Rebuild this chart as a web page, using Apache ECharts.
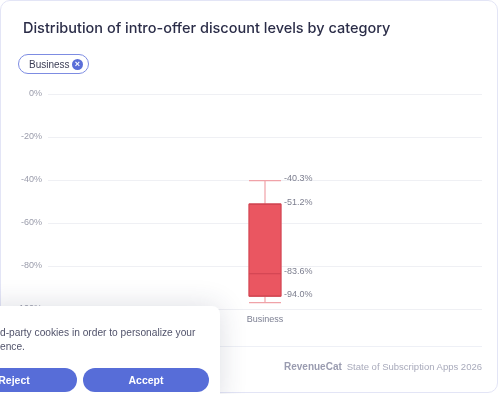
<!DOCTYPE html>
<html>
<head>
<meta charset="utf-8">
<script src="https://cdn.jsdelivr.net/npm/echarts@6/dist/echarts.min.js"></script>
<style>
  html, body { margin: 0; padding: 0; background: #ffffff; }
  .page { position: relative; width: 500px; height: 394px; overflow: hidden; font-family: 'Liberation Sans', sans-serif; }
  .card { position: absolute; left: 0; top: 0; width: 496px; height: 391px; border: 1px solid #e3e5f6; border-radius: 10px; box-sizing: content-box; }
  #chart { position: absolute; left: 0; top: 0; width: 500px; height: 394px; }
  .chip { position: absolute; left: 18px; top: 54px; height: 20px; width: 71px; box-sizing: border-box; padding-left: 10px; border: 1px solid #7d8ce2; border-radius: 11px; font-size: 10px; line-height: 19px; color: #3b3d55; }
  .chip .x { position: absolute; left: 53px; top: 3.5px; width: 11px; height: 11px; border-radius: 6px; background: #5a6ed8; color: #fff; font-size: 9px; line-height: 11px; text-align: center; font-weight: 700; }
  .divider { position: absolute; left: 18px; top: 346px; width: 464px; height: 1px; background: #eef0f6; }
  .footer { position: absolute; right: 18px; top: 361px; font-size: 9.5px; color: #a8aabb; white-space: nowrap; }
  .footer b { color: #9a9cb0; font-weight: 700; font-size: 10px; margin-right: 5px; }
  .cookie { position: absolute; left: -20px; top: 306px; width: 240px; height: 100px; background: #fff; border-radius: 8px; box-shadow: 0 0 28px rgba(40, 45, 80, 0.16); }
  .cookie p { position: absolute; left: 20px; top: 20px; margin: 0; font-size: 10.2px; line-height: 14px; color: #51536b; white-space: nowrap; }
  .btn { position: absolute; top: 62px; height: 24px; width: 126px; border-radius: 12px; background: #576dd8; color: #fff; font-size: 10.5px; font-weight: 700; line-height: 24px; text-align: center; }
</style>
</head>
<body>
<div class="page">
  <div class="card"></div>
  <div id="chart"></div>
  <div class="chip">Business<span class="x">×</span></div>
  <div class="divider"></div>
  <div class="footer"><b>RevenueCat</b>State of Subscription Apps 2026</div>
  <div class="cookie">
    <p>d-party cookies in order to personalize your<br>ence.</p>
    <div class="btn" style="left: -29px;">Reject</div>
    <div class="btn" style="left: 103px;">Accept</div>
  </div>
</div>
<script>
// 数据
const categories = ['Business']
// min, q1, median, q3, max
const boxStats = [[-97.0, -94.0, -83.6, -51.2, -40.3]]
const labelValues = [-40.3, -51.2, -83.6, -94.0]
const yTicks = [0, -20, -40, -60, -80, -100]

const chart = echarts.init(document.getElementById('chart'))

// 只画箱体和中位线（须线收缩到箱体边缘）
const innerBox = boxStats.map(d => [d[1], d[1], d[2], d[3], d[3]])

const option = {
  animation: false,
  title: {
    text: 'Distribution of intro-offer discount levels by category',
    left: 18,
    top: 16,
    textStyle: {
      fontFamily: 'Inter',
      fontSize: 14.5,
      fontWeight: 500,
      color: '#2b2d48'
    }
  },
  grid: {
    left: 48,
    right: 18,
    top: 94,
    bottom: 85
  },
  xAxis: [
    {
      type: 'category',
      data: categories,
      axisLine: { show: false },
      axisTick: { show: false },
      axisLabel: {
        margin: 6,
        fontSize: 9,
        fontFamily: 'Liberation Sans',
        color: '#7c7f92'
      }
    },
    {
      type: 'category',
      data: categories,
      show: false
    }
  ],
  yAxis: {
    type: 'value',
    min: yTicks[yTicks.length - 1],
    max: yTicks[0],
    interval: 20,
    axisLine: { show: false },
    axisTick: { show: false },
    splitLine: { lineStyle: { color: '#eff0f4', width: 1 } },
    axisLabel: {
      margin: 6,
      fontSize: 9,
      fontFamily: 'Liberation Sans',
      color: '#9a9cab',
      formatter: v => v + '%'
    }
  },
  series: [
    {
      type: 'boxplot',
      xAxisIndex: 0,
      data: boxStats,
      boxWidth: [32, 32],
      silent: true,
      itemStyle: {
        color: '#ea5661',
        borderColor: '#f0a2a8',
        borderWidth: 1.2
      }
    },
    {
      type: 'boxplot',
      xAxisIndex: 1,
      data: innerBox,
      boxWidth: [32, 32],
      silent: true,
      z: 3,
      itemStyle: {
        color: '#ea5661',
        borderColor: '#cf4350',
        borderWidth: 1
      }
    },
    {
      type: 'scatter',
      xAxisIndex: 0,
      symbolSize: 0,
      silent: true,
      z: 4,
      data: labelValues.map(v => [categories[0], v]),
      label: {
        show: true,
        position: 'right',
        distance: 19,
        offset: [0, -2],
        fontSize: 9,
        fontFamily: 'Liberation Sans',
        color: '#5a5d72',
        formatter: p => p.value[1].toFixed(1) + '%'
      }
    }
  ]
}

chart.setOption(option)
</script>
</body>
</html>
